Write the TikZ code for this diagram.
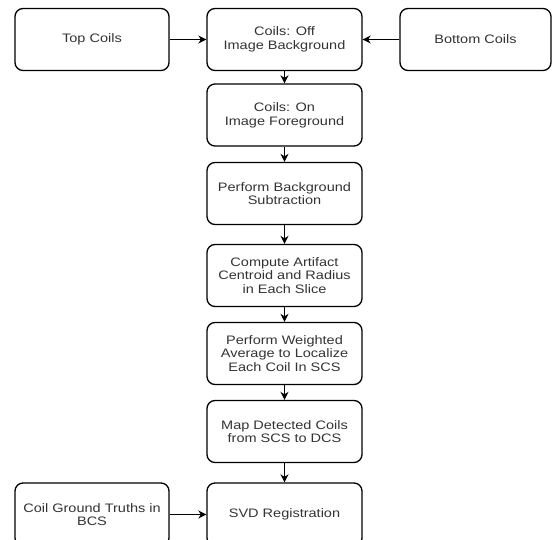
\documentclass[tikz,border=0pt]{standalone}
\usepackage{fontspec}
\setmainfont[FakeStretch=1.18]{Liberation Sans}
\usetikzlibrary{arrows.meta}
\definecolor{txt}{HTML}{333333}
\begin{document}
\begin{tikzpicture}[x=1pt,y=-1pt,
  box/.style={draw=black, line width=1.3pt, rounded corners=8pt, inner sep=0pt,
    minimum height=62pt, align=center, text=txt,
    font=\fontsize{12.3}{13.7}\selectfont},
  arr/.style={line width=1.3pt, -{Stealth[length=8pt,width=8pt,inset=2.5pt]}}]
\useasboundingbox (0,0) rectangle (552,540);
\node[box, minimum width=154pt] (top) at (92,39.5) {Top Coils};
\node[box, minimum width=155pt] (off) at (284.5,39.5) {Coils: Off\\Image Background};
\node[box, minimum width=151pt] (bot) at (475.5,39.5) {Bottom Coils};
\node[box, minimum width=155pt] (on) at (284.5,115) {Coils: On\\Image Foreground};
\node[box, minimum width=155pt] (sub) at (284.5,193.5) {Perform Background\\Subtraction};
\node[box, minimum width=155pt] (cen) at (284.5,275.5) {Compute Artifact\\Centroid and Radius\\in Each Slice};
\node[box, minimum width=155pt] (avg) at (284.5,353.5) {Perform Weighted\\Average to Localize\\Each Coil In SCS};
\node[box, minimum width=155pt] (map) at (284.5,431.5) {Map Detected Coils\\from SCS to DCS};
\node[box, minimum width=155pt, minimum height=63pt] (svd) at (284.5,514.5) {SVD Registration};
\node[box, minimum width=154pt, minimum height=63pt] (gt) at (92,514.5) {Coil Ground Truths in\\BCS};
\draw[arr] (top) -- (off);
\draw[arr] (bot) -- (off);
\draw[arr] (off) -- (on);
\draw[arr] (on) -- (sub);
\draw[arr] (sub) -- (cen);
\draw[arr] (cen) -- (avg);
\draw[arr] (avg) -- (map);
\draw[arr] (map) -- (svd);
\draw[arr] (gt) -- (svd);
\end{tikzpicture}
\end{document}
